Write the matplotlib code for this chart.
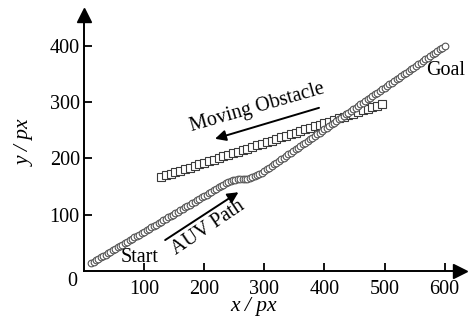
import matplotlib
matplotlib.use("Agg")
import matplotlib.pyplot as plt

# AUV path (circles)
auv_x = [12, 16, 20, 24, 28, 32, 36, 40, 44, 48, 52, 56, 60, 64, 68, 72, 76, 80, 84, 88,
         92, 96, 100, 104, 108, 112, 116, 120, 124, 128, 132, 136, 140, 144, 148, 152, 156, 160,
         164, 168, 172, 176, 180, 184, 188, 192, 196, 200, 204, 208, 212, 216, 220, 224, 228,
         232, 236, 240, 244, 248, 252, 256, 260, 264, 268, 272, 276, 280, 284, 288,
         292, 296, 300, 304, 308, 312, 316, 320, 324, 328, 332, 336, 340, 344, 348, 352, 356,
         360, 364, 368, 372, 376, 380, 384, 388, 392, 396, 400, 404, 408, 412, 416, 420, 424,
         428, 432, 436, 440, 444, 448, 452, 456, 460, 464, 468, 472, 476, 480, 484, 488, 492,
         496, 500, 504, 508, 512, 516, 520, 524, 528, 532, 536, 540, 544, 548, 552, 556, 560,
         564, 568, 572, 576, 580, 584, 588, 592, 596, 600]
auv_y = [14.0, 16.5, 19.1, 21.6, 24.2, 26.7, 29.2, 31.8, 34.3, 36.9, 39.4, 41.9, 44.5, 47.0,
         49.6, 52.1, 54.6, 57.2, 59.7, 62.3, 64.8, 67.3, 69.9, 72.4, 75.0, 77.5, 80.0, 82.6,
         85.1, 87.7, 90.2, 92.7, 95.3, 97.8, 100.4, 102.9, 105.4, 108.0, 110.5, 113.1, 115.6,
         118.1, 120.7, 123.2, 125.8, 128.3, 130.8, 133.4, 135.9, 138.5, 141.0, 143.5, 146.1,
         148.6, 151.2, 153.7, 156.2, 158.5, 160.5, 161.8, 162.5, 162.8, 162.8, 162.8, 163.2,
         164.0, 165.2, 166.6, 168.2, 170.0,
         172.0, 175.0, 177.9, 180.9, 183.8, 186.8, 189.8, 192.7, 195.7, 198.6, 201.6, 204.6,
         207.5, 210.5, 213.4, 216.4, 219.4, 222.3, 225.3, 228.2, 231.2, 234.2, 237.1, 240.1,
         243.0, 246.0, 249.0, 251.9, 254.9, 257.8, 260.8, 263.8, 266.7, 269.7, 272.6, 275.6,
         278.6, 281.5, 284.5, 287.4, 290.4, 293.4, 296.3, 299.3, 302.2, 305.2, 308.2, 311.1,
         314.1, 317.0, 320.0, 323.0, 325.9, 328.9, 331.8, 334.8, 337.8, 340.7, 343.7, 346.6,
         349.6, 352.6, 355.5, 358.5, 361.4, 364.4, 367.4, 370.3, 373.3, 376.2, 379.2, 382.2,
         385.1, 388.1, 391.0, 394.0, 397.0, 399.9]

# Moving obstacle (squares)
obs_x = [128, 136, 144, 152, 160, 168, 176, 184, 192, 200, 208, 216, 224, 232, 240, 248,
         256, 264, 272, 280, 288, 296, 304, 312, 320, 328, 336, 344, 352, 360, 368, 376, 384,
         392, 400, 408, 416, 424, 432, 440, 448, 456, 464, 472, 480, 488, 496]
obs_y = [167.0, 169.8, 172.6, 175.4, 178.3, 181.1, 183.9, 186.7, 189.5, 192.3, 195.2, 198.0,
         200.8, 203.6, 206.4, 209.2, 212.1, 214.9, 217.7, 220.5, 223.3, 226.1, 229.0, 231.8,
         234.6, 237.4, 240.2, 243.0, 245.9, 248.7, 251.5, 254.3, 257.1, 259.9, 262.8, 265.6,
         268.4, 271.2, 274.0, 276.8, 279.7, 282.5, 285.3, 288.1, 290.9, 293.7, 296.6]

x_ticks = [100, 200, 300, 400, 500, 600]
y_ticks = [100, 200, 300, 400]

plt.rcParams['font.family'] = ['Liberation Serif', 'DejaVu Serif']
FS = 14.5

fig = plt.figure(figsize=(4.69, 3.22), dpi=100)
ax = fig.add_axes([84 / 469, 51 / 322, (460 - 84) / 469, (271 - 15) / 322])
ax.set_xlim(0, 625.6)
ax.set_ylim(0, 455)

ax.plot(obs_x, obs_y, linestyle='none', marker='s', markersize=6,
        markerfacecolor='white', markeredgecolor='#3a3a3a', markeredgewidth=0.8)
ax.plot(auv_x, auv_y, linestyle='none', marker='o', markersize=4.8,
        markerfacecolor='white', markeredgecolor='#555555', markeredgewidth=0.8)

for s in ['top', 'right']:
    ax.spines[s].set_visible(False)
for s in ['left', 'bottom']:
    ax.spines[s].set_linewidth(1.4)

ax.plot(1, 0, '>k', transform=ax.transAxes, clip_on=False, markersize=10)
ax.plot(0, 1, '^k', transform=ax.transAxes, clip_on=False, markersize=10)

ax.set_xticks(x_ticks)
ax.set_yticks(y_ticks)
ax.set_xticklabels([str(v) for v in x_ticks])
ax.set_yticklabels([str(v) for v in y_ticks])
ax.tick_params(axis='both', direction='in', length=6, width=1.3, labelsize=FS)
ax.tick_params(axis='x', pad=6.5)
ax.tick_params(axis='y', pad=3)

fig.text(72 / 469, 1 - 281 / 322, '0', ha='center', va='center', fontsize=FS)
fig.text(254 / 469, 1 - 307 / 322, 'x / px', ha='center', va='center', fontsize=15.5,
         style='italic')
fig.text(25 / 469, 1 - 143 / 322, 'y / px', ha='center', va='center', fontsize=15.5,
         style='italic', rotation=90)

ax.text(93, 24, 'Start', ha='center', va='center', fontsize=FS)
ax.text(601, 356, 'Goal', ha='center', va='center', fontsize=FS)
ax.text(288, 290, 'Moving Obstacle', ha='center', va='center', fontsize=FS, rotation=16)
ax.text(206, 76, 'AUV Path', ha='center', va='center', fontsize=FS, rotation=34)

ax.annotate('', xy=(218, 235), xytext=(391, 290),
            arrowprops=dict(arrowstyle='-|>', color='k', lw=1.4, mutation_scale=16,
                            shrinkA=0, shrinkB=0))
ax.annotate('', xy=(257, 140), xytext=(135, 55),
            arrowprops=dict(arrowstyle='-|>', color='k', lw=1.4, mutation_scale=16,
                            shrinkA=0, shrinkB=0))

fig.savefig('out.png', dpi=100)
